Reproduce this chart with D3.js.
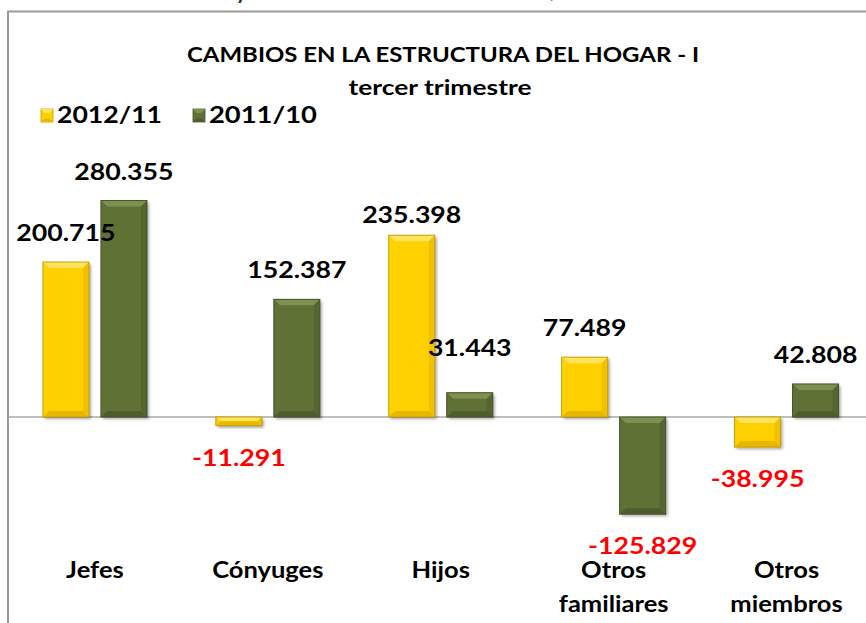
<!DOCTYPE html>
<html>
<head>
<meta charset="utf-8">
<script src="https://cdn.jsdelivr.net/npm/d3@7"></script>
<style>
  html, body { margin: 0; padding: 0; background: #fff; }
  svg { display: block; }
  text { font-family: Lato, "Noto Sans", sans-serif; font-weight: bold; }
</style>
</head>
<body>
<svg id="chart" width="866" height="623"></svg>
<script>
// ---------- data ----------
const categories = ["Jefes", "Cónyuges", "Hijos", "Otros familiares", "Otros miembros"];
const series = ["2012/11", "2011/10"];
const values2012 = [200.715, -11.291, 235.398, 77.489, -38.995];
const values2011 = [280.355, 152.387, 31.443, -125.829, 42.808];
const labels2012 = ["200.715", "-11.291", "235.398", "77.489", "-38.995"];
const labels2011 = ["280.355", "152.387", "31.443", "-125.829", "42.808"];
const titleText = "CAMBIOS EN LA ESTRUCTURA DEL HOGAR - I";
const subtitleText = "tercer trimestre";

// ---------- layout / style ----------
const W = 866, H = 623;
const zeroY = 417, pxPerUnit = 0.772;
const colors = {
  "2012/11": { face: "#FFD000", light: "#FFE55C", dark: "#E8B800", edge: "#C8A000" },
  "2011/10": { face: "#5F7136", light: "#7D9150", dark: "#4E5D2B", edge: "#45522A" }
};
// manual nudges of individual data labels (as in the original chart)
const labelNudge = { "2012/11|Hijos": 9, "2011/10|Hijos": -16 };
const HX = 1.16; // horizontal stretch of the original picture

const svg = d3.select("#chart");
const defs = svg.append("defs");
const f = defs.append("filter").attr("id", "shadow").attr("x", "-20%").attr("y", "-20%").attr("width", "150%").attr("height", "150%");
f.append("feGaussianBlur").attr("in", "SourceAlpha").attr("stdDeviation", 1.5);
f.append("feOffset").attr("dx", 1.5).attr("dy", 2).attr("result", "o");
f.append("feComponentTransfer").append("feFuncA").attr("type", "linear").attr("slope", 0.35);
const fm = f.append("feMerge"); fm.append("feMergeNode"); fm.append("feMergeNode").attr("in", "SourceGraphic");

function stretch(sel, k) {
  sel.each(function () {
    const len = this.getComputedTextLength();
    d3.select(this).attr("textLength", len * (k || HX)).attr("lengthAdjust", "spacingAndGlyphs");
  });
}

// top cut-off fragments of text above the chart frame
svg.append("text").attr("x", 236).attr("y", -1).attr("font-size", 20).attr("fill", "#222").attr("font-weight", "normal").text("y");
svg.append("text").attr("x", 550).attr("y", -2).attr("font-size", 20).attr("fill", "#222").attr("font-weight", "normal").text(",");

// frame
svg.append("path").attr("d", `M8,${H + 5} L8,11.5 L${W + 5},11.5`).attr("fill", "none").attr("stroke", "#9A9A9A").attr("stroke-width", 2);

// scales
const x0 = d3.scaleBand().domain(categories).range([8.5, 873]).paddingInner(0).paddingOuter(0);
const x1 = d3.scaleBand().domain(series).range([0, x0.bandwidth()]).paddingInner(0.207).paddingOuter(0.594);
const y = d3.scaleLinear().domain([-150, 300]).range([zeroY + 150 * pxPerUnit, zeroY - 300 * pxPerUnit]);

// zero axis line
svg.append("line").attr("x1", 9).attr("x2", W).attr("y1", y(0)).attr("y2", y(0)).attr("stroke", "#A8A8A8").attr("stroke-width", 1.5);

const rows = [];
categories.forEach((c, i) => {
  rows.push({ cat: c, s: series[0], v: values2012[i], label: labels2012[i] });
  rows.push({ cat: c, s: series[1], v: values2011[i], label: labels2011[i] });
});

function bevelBar(g, x, yTop, w, h, col) {
  const b = Math.min(6, h / 2, w / 2);
  g.append("rect").attr("x", x).attr("y", yTop).attr("width", w).attr("height", h).attr("fill", col.face).attr("filter", "url(#shadow)");
  // top bevel
  g.append("polygon").attr("points", [[x, yTop], [x + w, yTop], [x + w - b, yTop + b], [x + b, yTop + b]].join(" ")).attr("fill", col.light);
  // bottom bevel
  g.append("polygon").attr("points", [[x, yTop + h], [x + w, yTop + h], [x + w - b, yTop + h - b], [x + b, yTop + h - b]].join(" ")).attr("fill", col.dark);
  // side bevels
  g.append("polygon").attr("points", [[x, yTop], [x + b, yTop + b], [x + b, yTop + h - b], [x, yTop + h]].join(" ")).attr("fill", col.face).attr("opacity", 0.9);
  g.append("polygon").attr("points", [[x + w, yTop], [x + w - b, yTop + b], [x + w - b, yTop + h - b], [x + w, yTop + h]].join(" ")).attr("fill", col.dark).attr("opacity", 0.6);
  g.append("rect").attr("x", x).attr("y", yTop).attr("width", w).attr("height", h).attr("fill", "none").attr("stroke", col.edge).attr("stroke-width", 1);
}

const barsG = svg.append("g");
rows.forEach(d => {
  const x = x0(d.cat) + x1(d.s);
  const yTop = Math.min(y(d.v), y(0));
  const h = Math.abs(y(d.v) - y(0));
  bevelBar(barsG.append("g"), x, yTop, x1.bandwidth(), h, colors[d.s]);
});

// data labels
const lab = svg.append("g").selectAll("text").data(rows).join("text")
  .attr("x", d => x0(d.cat) + x1(d.s) + x1.bandwidth() / 2)
  .attr("y", d => (d.v >= 0 ? y(d.v) - 21 : y(d.v) + 40) + (labelNudge[d.s + "|" + d.cat] || 0))
  .attr("text-anchor", "middle")
  .attr("font-size", 23)
  .attr("fill", d => d.v >= 0 ? "#000" : "#FF0000")
  .text(d => d.label);
stretch(lab);

// category labels
const cl = svg.append("g").selectAll("text").data(categories).join("text")
  .attr("x", d => x0(d) + x0.bandwidth() / 2)
  .attr("y", 578)
  .attr("text-anchor", "middle")
  .attr("font-size", 22)
  .attr("fill", "#000");
cl.selectAll("tspan").data(d => d.split(" ").length > 1 ? d.split(" ") : [d]).join("tspan")
  .attr("x", function () { return d3.select(this.parentNode).attr("x"); })
  .attr("dy", (d, i) => i ? 34 : 0)
  .text(d => d);
cl.selectAll("tspan").each(function () {
  const len = this.getComputedTextLength();
  d3.select(this).attr("textLength", len * HX).attr("lengthAdjust", "spacingAndGlyphs");
});

// title
const t1 = svg.append("text").attr("x", 443).attr("y", 62).attr("text-anchor", "middle").attr("font-size", 21).attr("fill", "#000").text(titleText);
stretch(t1, 1.0);
t1.attr("textLength", 512);
const t2 = svg.append("text").attr("x", 440).attr("y", 95).attr("text-anchor", "middle").attr("font-size", 21).attr("fill", "#000").text(subtitleText);
t2.attr("textLength", 183).attr("lengthAdjust", "spacingAndGlyphs");

// legend
const legX = [41, 193];
series.forEach((s, i) => {
  const g = svg.append("g");
  const col = colors[s];
  g.append("rect").attr("x", legX[i]).attr("y", 109).attr("width", 12).attr("height", 13).attr("fill", col.face).attr("stroke", col.edge).attr("stroke-width", 0.8);
  g.append("polygon").attr("points", [[legX[i], 109], [legX[i] + 12, 109], [legX[i] + 8.5, 113], [legX[i] + 3.5, 113]].join(" ")).attr("fill", col.light);
  g.append("polygon").attr("points", [[legX[i], 122], [legX[i] + 12, 122], [legX[i] + 8.5, 118.5], [legX[i] + 3.5, 118.5]].join(" ")).attr("fill", col.dark);
  const tx = g.append("text").attr("x", legX[i] + 16).attr("y", 123).attr("font-size", 22).attr("fill", "#000").text(s);
  tx.attr("textLength", i ? 108 : 105).attr("lengthAdjust", "spacingAndGlyphs");
});
</script>
</body>
</html>
